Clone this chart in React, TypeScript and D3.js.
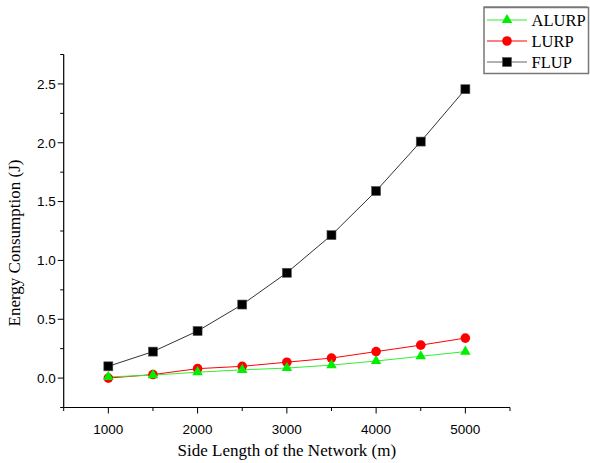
import React from "react";
import * as d3 from "d3";

const sideLengths = [1000, 1500, 2000, 2500, 3000, 3500, 4000, 4500, 5000];
const alurp = [0.01, 0.025, 0.05, 0.07, 0.085, 0.11, 0.145, 0.185, 0.225];
const lurp = [0.0, 0.03, 0.08, 0.1, 0.135, 0.17, 0.225, 0.28, 0.34];
const flup = [0.1, 0.225, 0.4, 0.625, 0.895, 1.215, 1.59, 2.01, 2.455];
const seriesNames = ["ALURP", "LURP", "FLUP"];
const xMajorTicks = [1000, 2000, 3000, 4000, 5000];
const xMinorTicks = [500, 1500, 2500, 3500, 4500, 5500];
const yMajorTicks = [0, 0.5, 1.0, 1.5, 2.0, 2.5];
const yMinorTicks = [-0.25, 0.25, 0.75, 1.25, 1.75, 2.25, 2.75];

const W = 590;
const H = 463;
const left = 63.7;
const right = 510;
const top = 54.5;
const bottom = 407.5;

const x = d3.scaleLinear().domain([500, 5500]).range([left, right]);
const y = d3.scaleLinear().domain([-0.25, 2.75]).range([bottom, top]);

const serif = "'Liberation Serif', 'Times New Roman', serif";
const sans = "'Liberation Sans', Arial, sans-serif";

type Kind = "triangle" | "circle" | "square";

function Marker({ cx, cy, kind, color }: { cx: number; cy: number; kind: Kind; color: string }) {
  if (kind === "circle") return <circle cx={cx} cy={cy} r={4.8} fill={color} />;
  if (kind === "square")
    return <rect x={cx - 4.5} y={cy - 4.5} width={9} height={9} fill="#000" stroke="#555" strokeWidth={0.6} />;
  const s = d3.symbol().type(d3.symbolTriangle).size(48)();
  return <path d={s as string} transform={`translate(${cx},${cy})`} fill={color} />;
}

const series: { name: string; values: number[]; color: string; line: string; kind: Kind }[] = [
  { name: seriesNames[0], values: alurp, color: "#00ee00", line: "#33ee33", kind: "triangle" },
  { name: seriesNames[1], values: lurp, color: "#ff0000", line: "#ff0000", kind: "circle" },
  { name: seriesNames[2], values: flup, color: "#000000", line: "#333333", kind: "square" },
];

export default function App() {
  const lineGen = (vals: number[]) =>
    d3
      .line<number>()
      .x((_, i) => x(sideLengths[i]))
      .y((v) => y(v))(vals) as string;

  const drawOrder = [series[2], series[1], series[0]];

  return (
    <svg
      width={W}
      height={H}
      style={{ position: "absolute", left: 0, top: 0, background: "#fff" }}
    >
      <rect width={W} height={H} fill="#fff" />
      {/* axes */}
      <line x1={left} y1={top} x2={left} y2={bottom} stroke="#000" strokeWidth={1.2} />
      <line x1={left} y1={bottom} x2={right} y2={bottom} stroke="#000" strokeWidth={1.2} />
      {yMajorTicks.map((t) => (
        <g key={"ym" + t}>
          <line x1={left - 6} x2={left} y1={y(t)} y2={y(t)} stroke="#000" strokeWidth={1} />
          <text
            x={left - 8}
            y={y(t)}
            dy="0.36em"
            textAnchor="end"
            fontFamily={sans}
            fontSize={13.5}
          >
            {t.toFixed(1)}
          </text>
        </g>
      ))}
      {yMinorTicks.map((t) => (
        <line key={"yn" + t} x1={left - 3.5} x2={left} y1={y(t)} y2={y(t)} stroke="#000" strokeWidth={1} />
      ))}
      {xMajorTicks.map((t) => (
        <g key={"xm" + t}>
          <line x1={x(t)} x2={x(t)} y1={bottom} y2={bottom + 6} stroke="#000" strokeWidth={1} />
          <text
            x={x(t)}
            y={433.5}
            textAnchor="middle"
            fontFamily={sans}
            fontSize={13.5}
          >
            {t}
          </text>
        </g>
      ))}
      {xMinorTicks.map((t) => (
        <line key={"xn" + t} x1={x(t)} x2={x(t)} y1={bottom} y2={bottom + 3.5} stroke="#000" strokeWidth={1} />
      ))}
      {/* axis titles */}
      <text
        x={(left + right) / 2}
        y={456}
        textAnchor="middle"
        fontFamily={serif}
        fontSize={17}
      >
        Side Length of the Network (m)
      </text>
      <text
        transform={`translate(20,243) rotate(-90)`}
        textAnchor="middle"
        fontFamily={serif}
        fontSize={17}
      >
        Energy Consumption (J)
      </text>
      {/* series */}
      {drawOrder.map((s) => (
        <path key={"l" + s.name} d={lineGen(s.values)} fill="none" stroke={s.line} strokeWidth={1} />
      ))}
      {drawOrder.map((s) =>
        s.values.map((v, i) => (
          <Marker key={s.name + i} cx={x(sideLengths[i])} cy={y(v)} kind={s.kind} color={s.color} />
        ))
      )}
      {/* legend */}
      <rect x={484} y={7.5} width={104.5} height={66} fill="none" stroke="#777" strokeWidth={1.5} />
      <line x1={483.5} y1={6.5} x2={587.5} y2={6.5} stroke="#999" strokeWidth={1} />
      {series.map((s, i) => {
        const cy = 20 + i * 21;
        return (
          <g key={"lg" + s.name}>
            <line x1={487} x2={527} y1={cy} y2={cy} stroke={s.kind === "square" ? "#666" : s.line} strokeWidth={1.2} />
            <Marker cx={507} cy={cy} kind={s.kind} color={s.color} />
            <text x={531.5} y={cy} dy="0.35em" fontFamily={serif} fontSize={16.5}>
              {s.name}
            </text>
          </g>
        );
      })}
    </svg>
  );
}
